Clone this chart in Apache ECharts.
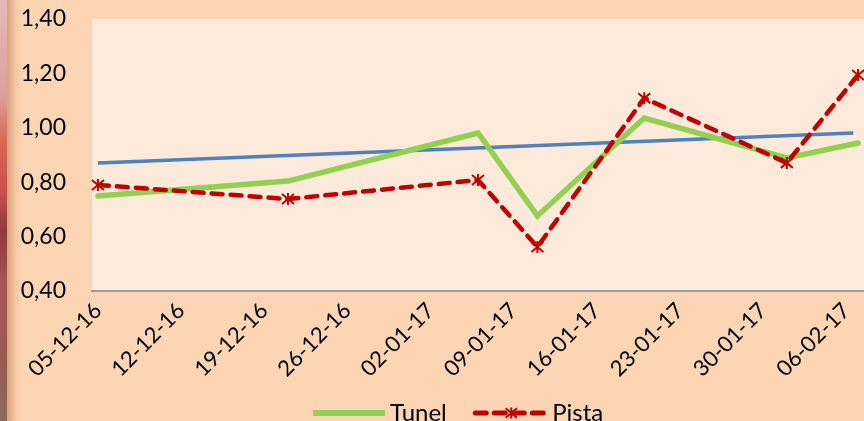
<!DOCTYPE html>
<html>
<head>
<meta charset="utf-8">
<script src="https://cdn.jsdelivr.net/npm/echarts@6/dist/echarts.min.js"></script>
<style>
html,body{margin:0;padding:0;background:#FCD5B5;width:864px;height:421px;overflow:hidden;}
#strip{position:absolute;left:0;top:0;width:7px;height:421px;
background:linear-gradient(to bottom,#e7b8b8 0%,#dca0a0 22%,#d86850 34%,#cc5050 45%,#8e3a3a 55%,#a85656 68%,#9a5a50 85%,#8a6a5a 100%);}
#shade{position:absolute;left:7px;top:0;width:15px;height:421px;
background:linear-gradient(to right,#d9a27c 0%,#f0c4a0 50%,#FCD5B5 100%);}
#chart{position:absolute;left:0;top:0;width:864px;height:421px;}
</style>
</head>
<body>
<div id="strip"></div>
<div id="shade"></div>
<div id="chart"></div>
<script>
// ---- data ----
const dates = ['2016-12-05','2016-12-21','2017-01-06','2017-01-11','2017-01-20','2017-02-01','2017-02-07'];
const tunel = [0.749, 0.804, 0.981, 0.676, 1.036, 0.889, 0.944];
const pista = [0.790, 0.738, 0.808, 0.562, 1.109, 0.871, 1.194];
const trendDates = ['2016-12-05','2017-02-06'];
const trendValues = [0.871, 0.981];
const tickLabels = ['05-12-16','12-12-16','19-12-16','26-12-16','02-01-17','09-01-17','16-01-17','23-01-17','30-01-17','06-02-17'];

const DAY = 86400000;
const base = Date.UTC(2016, 11, 5);
function dayOf(s){ const p = s.split('-'); return (Date.UTC(+p[0], +p[1]-1, +p[2]) - base) / DAY; }

const tunelData = dates.map((d,i)=>[dayOf(d), tunel[i]]);
const pistaData = dates.map((d,i)=>[dayOf(d), pista[i]]);
const trendData = trendDates.map((d,i)=>[dayOf(d) + (i===1?0.6:0), trendValues[i]]);
const tickDays = tickLabels.map((_,i)=>i*7);

const FONT = 'Lato';
const star = 'path://M0,-6L0,6M-5,-5L5,5M-5,5L5,-5';

const chart = echarts.init(document.getElementById('chart'));
chart.setOption({
  backgroundColor: 'transparent',
  animation: false,
  textStyle: {fontFamily: FONT},
  grid: {left: 92, top: 19, right: 0, bottom: 130, show: true, backgroundColor: '#FDEADA', borderWidth: 0},
  xAxis: {
    type: 'value', min: -0.5, max: 64.5,
    splitLine: {show: false},
    axisLine: {show: true, lineStyle: {color: '#999999', width: 2}},
    axisTick: {show: false},
    axisLabel: {
      customValues: tickDays,
      rotate: 45, margin: 16,
      fontSize: 22, color: '#000', fontFamily: FONT,
      formatter: v => tickLabels[Math.round(v/7)]
    }
  },
  yAxis: {
    type: 'value', min: 0.4, max: 1.4, interval: 0.2,
    splitLine: {show: false},
    axisLine: {show: false},
    axisTick: {show: false},
    axisLabel: {
      margin: 26, fontSize: 23, color: '#000', fontFamily: FONT,
      formatter: v => v.toFixed(2).replace('.', ',')
    }
  },
  legend: {
    left: 308, top: 396,
    itemWidth: 72, itemHeight: 14, itemGap: 26,
    textStyle: {fontSize: 24, color: '#000', fontFamily: FONT},
    data: [
      {name: 'Tunel', icon: 'path://M0,0L72,0L72,6L0,6Z'},
      {name: 'Pista', lineStyle: {width: 5}}
    ]
  },
  series: [
    {
      name: 'Trend', type: 'line', data: trendData, showSymbol: false, symbol: 'none',
      lineStyle: {color: '#4F81BD', width: 3.5}, z: 2
    },
    {
      name: 'Tunel', type: 'line', data: tunelData, symbol: 'none', showSymbol: false,
      itemStyle: {color: '#92D050'},
      lineStyle: {color: '#92D050', width: 5.5, cap: 'round', join: 'miter'}, z: 3
    },
    {
      name: 'Pista', type: 'line', data: pistaData,
      symbol: star, symbolSize: 12,
      itemStyle: {color: '#C00000', borderColor: '#C00000', borderWidth: 2},
      lineStyle: {color: '#C00000', width: 4.5, type: [11, 8], cap: 'round'}, z: 4
    }
  ]
});
</script>
</body>
</html>
